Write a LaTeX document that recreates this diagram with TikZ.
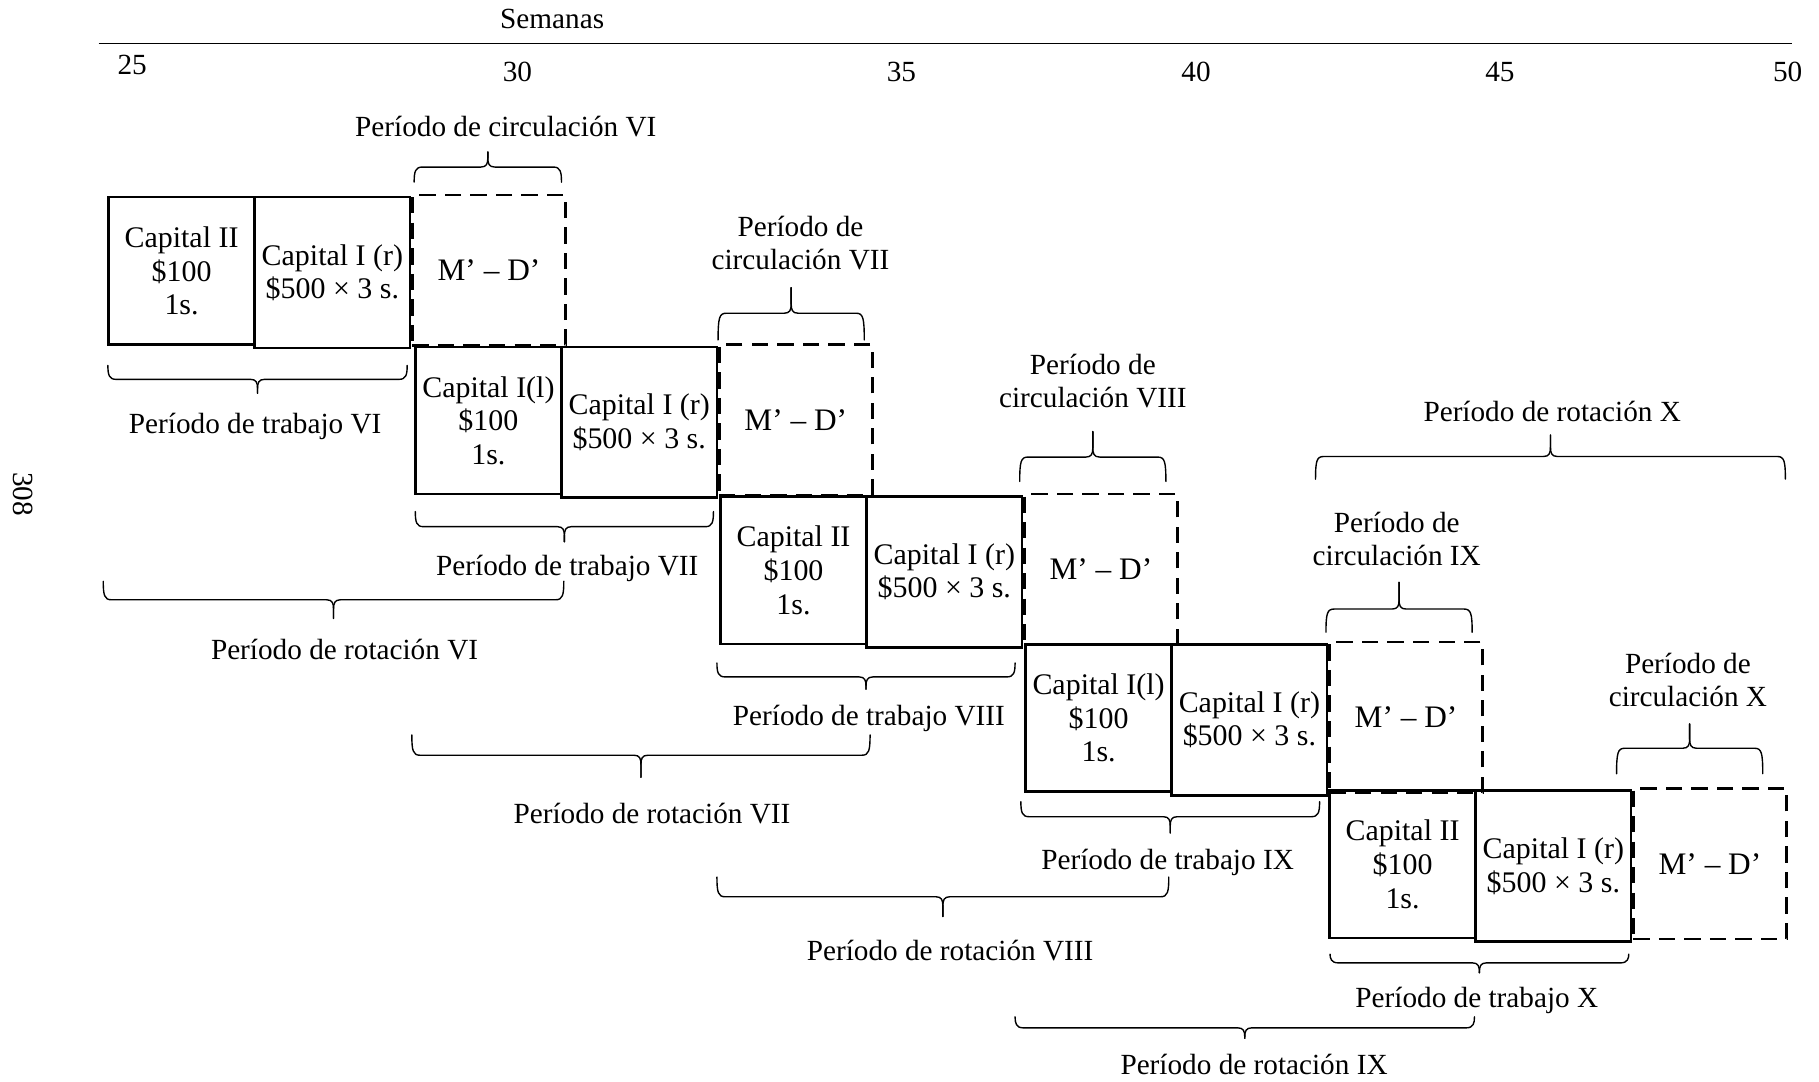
\documentclass[tikz,border=0pt]{standalone}
\usepackage{fontspec}
\setmainfont{Liberation Serif}

% curly bracket: #1 left x, #2 right x, #3 y of the ends, #4 y of the bar, #5 y of the tip
\newcommand\capbrace[5]{%
  \pgfmathsetmacro\bmid{(#1+#2)/2}%
  \pgfmathsetmacro\bend{#4+4*sign(#3-#4)}%
  \pgfmathsetmacro\btipa{#4+3*sign(#5-#4)}%
  \pgfmathsetmacro\btipb{#4+8*sign(#5-#4)}%
  \draw[bracepen] (#1,#3) .. controls (#1,\bend) and (#1+1,#4) .. (#1+7,#4)
    -- (\bmid-6,#4) .. controls (\bmid-1,#4) and (\bmid,\btipa) .. (\bmid,\btipb) -- (\bmid,#5);
  \draw[bracepen] (#2,#3) .. controls (#2,\bend) and (#2-1,#4) .. (#2-7,#4)
    -- (\bmid+6,#4) .. controls (\bmid+1,#4) and (\bmid,\btipa) .. (\bmid,\btipb) -- (\bmid,#5);
}

\begin{document}
\begin{tikzpicture}[x=0.5pt, y=-0.5pt,
  every node/.style={font=\fontsize{12.6}{14.3}\selectfont, inner sep=0pt, outer sep=0pt},
  cell/.style={draw, line width=1.1pt, anchor=north west, align=center,
    font=\fontsize{12.9}{14.5}\selectfont},
  cella/.style={cell, minimum width=63pt, minimum height=63.5pt},
  cellb/.style={cell, minimum width=67pt, minimum height=65pt},
  mdcell/.style={cell, minimum width=66pt, minimum height=65pt, dash pattern=on 7pt off 4pt,
    font=\fontsize{13.5}{15}\selectfont},
  lbl/.style={align=center},
  bracepen/.style={line width=0.6pt, line join=round, line cap=round}
]
\useasboundingbox (0,0) rectangle (1568,932);

% time axis
\node (semanas) at (476,16) {Semanas};
\coordinate (axL) at (85,37.5);
\coordinate (axR) at (1545,37.5);
\draw[line width=0.8pt] (axL) -- (axR);
\node (w25) at (114,56) {25};
\node (w30) at (446,62) {30};
\node (w35) at (777,62) {35};
\node (w40) at (1031,62) {40};
\node (w45) at (1293,62) {45};
\node (w50) at (1541,62) {50};

% page number
\node[rotate=-90] (pagenum) at (20,426) {308};

% circulation boxes (dashed) first, so solid edges stay on top
\node[mdcell] (md6)  at (355.5,168) {M’ – D’};
\node[mdcell] (md7)  at (620,297)   {M’ – D’};
\node[mdcell] (md8)  at (883,426)   {M’ – D’};
\node[mdcell] (md9)  at (1146,553.5) {M’ – D’};
\node[mdcell] (md10) at (1408,679.5) {M’ – D’};

% working period boxes
\node[cella] (a6)  at (93.5,170) {Capital II\\\$100\\1s.};
\node[cellb] (b6)  at (219.5,170) {Capital I (r)\\\$500 × 3 s.};
\node[cella] (a7)  at (358,299) {Capital I(l)\\\$100\\1s.};
\node[cellb] (b7)  at (484,299) {Capital I (r)\\\$500 × 3 s.};
\node[cella] (a8)  at (621,428) {Capital II\\\$100\\1s.};
\node[cellb] (b8)  at (747,428) {Capital I (r)\\\$500 × 3 s.};
\node[cella] (a9)  at (884,555.5) {Capital I(l)\\\$100\\1s.};
\node[cellb] (b9)  at (1010,555.5) {Capital I (r)\\\$500 × 3 s.};
\node[cella] (a10) at (1146,681.5) {Capital II\\\$100\\1s.};
\node[cellb] (b10) at (1272,681.5) {Capital I (r)\\\$500 × 3 s.};

% labels above
\node[lbl] (circ6)  at (436,109)    {Período de circulación VI};
\node[lbl] (circ7)  at (690,209.5)  {Período de\\circulación VII};
\node[lbl] (circ8)  at (942,328.5)  {Período de\\circulación VIII};
\node[lbl] (rot10)  at (1338,355)   {Período de rotación X};
\node[lbl] (circ9)  at (1204,464.5) {Período de\\circulación IX};
\node[lbl] (circ10) at (1455,586)   {Período de\\circulación X};

% labels below
\node[lbl] (trab6)  at (220,368)    {Período de trabajo VI};
\node[lbl] (trab7)  at (489,490)    {Período de trabajo VII};
\node[lbl] (rot6)   at (297,560)    {Período de rotación VI};
\node[lbl] (trab8)  at (749,619)    {Período de trabajo VIII};
\node[lbl] (rot7)   at (562,701)    {Período de rotación VII};
\node[lbl] (trab9)  at (1006.5,743) {Período de trabajo IX};
\node[lbl] (rot8)   at (819,819)    {Período de rotación VIII};
\node[lbl] (trab10) at (1273,862)   {Período de trabajo X};
\node[lbl] (rot9)   at (1081,918)   {Período de rotación IX};

% brackets opening downwards (circulation, rotation X)
\capbrace{357}{484}{157}{144}{131}
\capbrace{619}{745}{293}{270}{248}
\capbrace{879}{1005}{415}{394}{372}
\capbrace{1134}{1539}{413}{393.5}{375}
\capbrace{1143}{1269}{545}{525}{502}
\capbrace{1393.5}{1519.5}{667}{645}{624}

% brackets opening upwards (work and rotation periods)
\capbrace{93}{351}{315}{327}{339}
\capbrace{358}{615}{441}{454}{467}
\capbrace{89}{486}{501}{517}{533}
\capbrace{618}{875}{571.5}{583.5}{594}
\capbrace{355}{750}{633.5}{651}{670}
\capbrace{880}{1137.5}{691}{704}{718}
\capbrace{618}{1007.5}{756}{773}{790}
\capbrace{1146.5}{1404}{822.5}{830}{838.5}
\capbrace{875}{1271}{876.5}{886}{895}
\end{tikzpicture}
\end{document}
